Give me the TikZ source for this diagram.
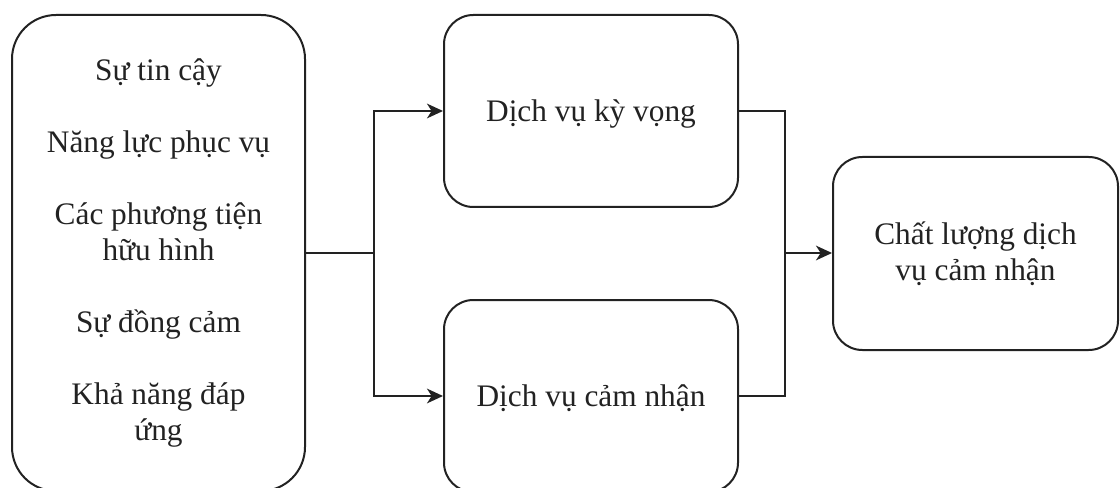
\documentclass[tikz,border=0pt]{standalone}
\usepackage{fontspec}
\setmainfont{Liberation Serif}
\usetikzlibrary{arrows.meta}
\definecolor{ink}{HTML}{222222}
\tikzset{
  px/.style={x=0.75pt,y=-0.75pt},
  box/.style={draw=ink,line width=1.5pt,rounded corners=#1,align=center,text=ink,
    font=\fontsize{23.5}{27}\selectfont,inner sep=0pt},
  conn/.style={draw=ink,line width=1.5pt},
  arr/.style={conn,-{Stealth[length=12pt,width=11pt,inset=3.5pt]}}
}
\begin{document}
\begin{tikzpicture}[px]
\useasboundingbox (0,0) rectangle (1120,488);
\begin{scope}
\clip (0,0) rectangle (1120,488);
\node[box=33pt,minimum width=219.75pt,minimum height=357pt] (L) at (158.5,253)
  {\raisebox{-3pt}{\begin{tabular}{@{}c@{}}Sự tin cậy\\[27pt]Năng lực phục vụ\\[27pt]Các phương tiện\\hữu hình\\[27pt]Sự đồng cảm\\[27pt]Khả năng đáp\\ứng\end{tabular}}};
\node[box=22pt,minimum width=220.5pt,minimum height=144pt,text depth=0pt] (T) at (591,111) {Dịch vụ kỳ vọng};
\node[box=22pt,minimum width=220.5pt,minimum height=144pt,text depth=0pt] (B) at (591,396) {Dịch vụ cảm nhận};
\node[box=22pt,minimum width=213.75pt,minimum height=144.75pt] (R) at (975.5,253.5) {Chất lượng dịch\\vụ cảm nhận};
\end{scope}
\coordinate (j1) at (374,253);
\coordinate (j2) at (785,253);
\draw[conn] (L.east |- j1) -- (j1);
\draw[arr] (j1) |- (T.west);
\draw[arr] (j1) |- (B.west);
\draw[conn] (T.east) -| (j2);
\draw[conn] (B.east) -| (j2);
\draw[arr] (j2) -- (R.west |- j2);
\end{tikzpicture}
\end{document}
